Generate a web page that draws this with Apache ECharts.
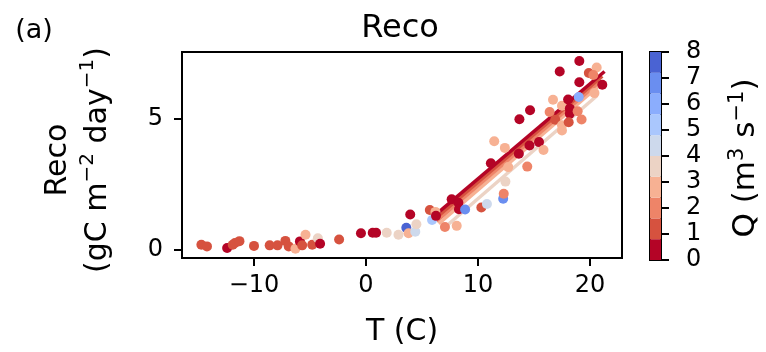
<!DOCTYPE html>
<html><head><meta charset="utf-8">
<script src="https://cdn.jsdelivr.net/npm/echarts@6/dist/echarts.min.js"></script>
<style>html,body{margin:0;padding:0;background:#fff}#c{width:766px;height:352px}</style>
</head><body><div id="c"></div>
<script>
// ---- data ----
const tempC = [-14.7,-14.2,-12.4,-11.9,-11.7,-11.3,-10.0,-8.6,-7.9,-7.2,-6.9,-6.3,-5.9,-5.7,-5.4,-4.8,-4.3,-4.1,-2.4,-0.45,0.6,0.9,1.85,2.9,3.6,3.8,4.4,4.5,3.95,5.7,5.9,6.2,6.25,7.05,8.1,7.65,8.25,8.3,8.85,10.3,10.8,12.25,12.3,12.45,11.45,12.4,11.15,12.7,14.4,13.65,14.6,15.45,15.85,13.7,14.65,16.7,16.4,16.9,17.5,17.5,17.5,18.05,18.2,18.2,18.1,18.9,19.25,19.0,17.3,19.05,19.05,19.9,20.6,21.1,20.4,20.3];
const reco  = [0.20,0.14,0.08,0.20,0.27,0.34,0.16,0.18,0.18,0.35,0.14,0.05,0.33,0.18,0.58,0.20,0.45,0.24,0.40,0.64,0.66,0.66,0.66,0.58,0.85,0.64,0.70,0.98,1.35,1.52,1.14,1.45,1.30,0.88,0.92,1.93,1.80,1.55,1.54,1.62,1.75,1.95,2.14,2.60,4.13,3.88,3.30,3.15,3.17,3.66,3.97,4.10,3.80,4.97,5.31,5.71,5.24,4.95,4.74,4.54,5.48,5.72,5.37,5.18,4.85,5.27,4.96,5.81,6.78,7.18,6.37,6.72,6.93,6.28,5.96,6.65];
const qFlow = [1.2,1.2,0.4,1.2,1.2,1.2,1.2,1.2,1.2,1.2,1.2,2.8,0.4,1.2,2.8,1.2,3.6,0.4,1.2,0.4,0.4,0.4,3.6,3.6,7.6,2.8,4.4,3.6,0.4,1.2,5.2,2.8,0.4,2.0,2.8,0.4,0.4,0.4,6.8,1.2,4.4,6.8,2.0,3.6,2.8,2.8,0.4,2.8,2.0,0.4,0.4,0.4,2.8,0.4,0.4,2.8,2.0,1.2,2.8,2.8,2.8,0.4,0.4,0.4,1.2,2.0,2.0,6.0,0.4,0.4,0.4,1.2,2.8,0.4,2.8,2.0];

// regression lines, one per Q class
const fitQ  = [3.6, 2.8, 2.0, 1.2, 0.4];
const fitT0 = [7.0, 6.5, 6.3, 6.2, 6.1];
const fitR0 = [0.85, 1.0, 1.1, 1.2, 1.3];
const fitT1 = [20.6, 20.7, 20.9, 21.1, 21.3];
const fitR1 = [5.85, 6.2, 6.4, 6.6, 6.78];

const xTicks = [-10, 0, 10, 20];
const yTicks = [0, 5];
const qEdges = [0, 0.8, 1.6, 2.4, 3.2, 4.0, 4.8, 5.6, 6.4, 7.2, 8.0];
const qColors = ['#b40426','#d6523f','#ee8468','#f7b193','#ecd3c5','#cdd9ec','#aac7fd','#8badfd','#6a8ef0','#4a63d3'];

// ---- chart ----
const FONT = 'DejaVu Sans';
function qColor(q){ let i = Math.floor(q / (qEdges[1]-qEdges[0])); i = Math.max(0, Math.min(qColors.length-1, i)); return qColors[i]; }
const minus = v => String(v).replace('-', '\u2212');

const series = [];
for (let i = 0; i < fitQ.length; i++) {
  series.push({ type:'line', xAxisIndex:0, yAxisIndex:0, symbol:'none', silent:true,
    data:[[fitT0[i], fitR0[i]], [fitT1[i], fitR1[i]]],
    lineStyle:{ color: qColor(fitQ[i]), width:3.5 }, z:2 });
}
series.push({ type:'scatter', xAxisIndex:0, yAxisIndex:0, symbolSize:10, z:3,
  data: tempC.map((t,i)=>({ value:[t, reco[i]], itemStyle:{ color: qColor(qFlow[i]), opacity:1 } })) });
for (let i = 0; i < qColors.length; i++) {
  series.push({ type:'bar', xAxisIndex:1, yAxisIndex:1, stack:'cb', barWidth:'100%', silent:true,
    data:[qEdges[i+1]-qEdges[i]], itemStyle:{ color: qColors[i] } });
}

const axisCommon = {
  axisLine:{ show:true, onZero:false, lineStyle:{ color:'#000', width:2 } },
  axisTick:{ show:true, inside:false, length:8, lineStyle:{ color:'#000', width:2 } },
  splitLine:{ show:false },
  axisLabel:{ color:'#000', fontFamily:FONT, fontSize:24 }
};

const option = {
  animation:false,
  backgroundColor:'#fff',
  grid:[
    { left:182, top:52, width:440, height:208, show:true, borderColor:'#000', borderWidth:2 },
    { left:650, top:52, width:11, height:208, show:true, borderColor:'#000', borderWidth:2 }
  ],
  xAxis:[
    Object.assign({}, axisCommon, { type:'value', gridIndex:0, min:-16.43, max:22.86,
      axisTick:Object.assign({}, axisCommon.axisTick, { customValues:xTicks }),
      axisLabel:Object.assign({}, axisCommon.axisLabel, { customValues:xTicks, margin:16, formatter:minus }),
      name:'T (C)', nameLocation:'middle', nameGap:59,
      nameTextStyle:{ color:'#000', fontFamily:FONT, fontSize:30 } }),
    { type:'category', gridIndex:1, data:['Q'], show:false }
  ],
  yAxis:[
    Object.assign({}, axisCommon, { type:'value', gridIndex:0, min:-0.30, max:7.52,
      axisTick:Object.assign({}, axisCommon.axisTick, { customValues:yTicks }),
      axisLabel:Object.assign({}, axisCommon.axisLabel, { customValues:yTicks, margin:19, formatter:minus }) }),
    Object.assign({}, axisCommon, { type:'value', gridIndex:1, min:0, max:8, interval:1, position:'right',
      axisLabel:Object.assign({}, axisCommon.axisLabel, { margin:25 }) })
  ],
  graphic:[
    { type:'text', x:34, y:31, style:{ text:'(a)', font:'27px "DejaVu Sans"', fill:'#000', align:'center', verticalAlign:'middle' } },
    { type:'text', x:400, y:29, style:{ text:'Reco', font:'32px "DejaVu Sans"', fill:'#000', align:'center', verticalAlign:'middle' } },
    { type:'text', x:78, y:160, rotation:Math.PI/2,
      style:{ text:'{m|Reco}\n{m|(gC m}{s|\u22122}{m| day}{s|\u22121}{m|)}', align:'center', verticalAlign:'middle', fill:'#000',
        rich:{ m:{ fontFamily:FONT, fontSize:30, lineHeight:40, fill:'#000' }, s:{ fontFamily:FONT, fontSize:20, lineHeight:40, verticalAlign:'top', fill:'#000' } } } },
    { type:'text', x:746, y:158, rotation:Math.PI/2,
      style:{ text:'{m|Q (m}{s|3}{m| s}{s|\u22121}{m|)}', align:'center', verticalAlign:'middle', fill:'#000',
        rich:{ m:{ fontFamily:FONT, fontSize:31, lineHeight:38, fill:'#000' }, s:{ fontFamily:FONT, fontSize:21, lineHeight:38, verticalAlign:'top', fill:'#000' } } } }
  ],
  series: series
};
echarts.init(document.getElementById('c'), null, {renderer:'canvas'}).setOption(option);
</script></body></html>
